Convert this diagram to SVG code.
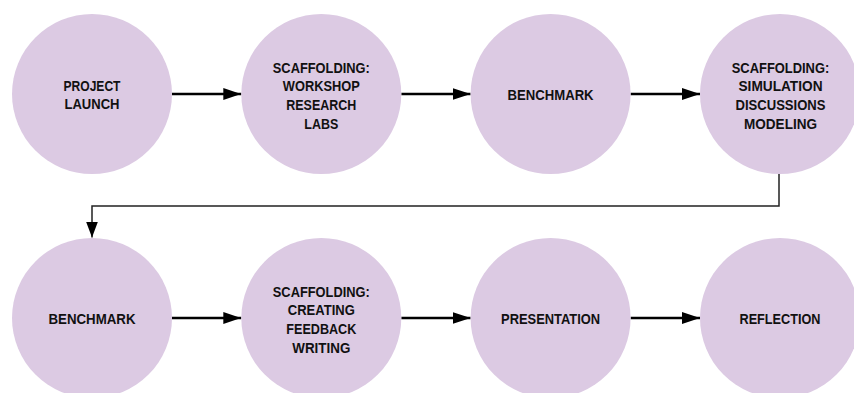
<svg xmlns="http://www.w3.org/2000/svg" width="854" height="393" viewBox="0 0 854 393">
<style>
  .node { fill: #dccae3; }
  .lbl { font-family: "Liberation Sans", Arial, sans-serif; font-weight: bold; font-size: 15px; fill: #111; text-anchor: middle; }
  .arr { stroke: #000; stroke-width: 2.5; fill: none; }
  .bend { stroke: #222; stroke-width: 1.5; fill: none; }
</style>
<defs>
  <marker id="ah" markerUnits="userSpaceOnUse" markerWidth="18" markerHeight="12" refX="18" refY="6" orient="auto">
    <path d="M0,0 L18,6 L0,12 z" fill="#000"/>
  </marker>
  <marker id="ah2" markerUnits="userSpaceOnUse" markerWidth="16" markerHeight="12" refX="16" refY="6" orient="auto">
    <path d="M0,0 L16,6 L0,12 z" fill="#000"/>
  </marker>
</defs>
<rect width="854" height="393" fill="#fff"/>
<g id="connectors">
  <line class="arr" x1="172" y1="94" x2="241.3" y2="94" marker-end="url(#ah)"/>
  <line class="arr" x1="401.3" y1="94" x2="470.6" y2="94" marker-end="url(#ah)"/>
  <line class="arr" x1="630.6" y1="94" x2="700" y2="94" marker-end="url(#ah)"/>
  <path class="bend" d="M779,174 V206 H92 V237.5" marker-end="url(#ah2)"/>
  <line class="arr" x1="172" y1="318" x2="241.3" y2="318" marker-end="url(#ah)"/>
  <line class="arr" x1="401.3" y1="318" x2="470.6" y2="318" marker-end="url(#ah)"/>
  <line class="arr" x1="630.6" y1="318" x2="700" y2="318" marker-end="url(#ah)"/>
</g>
<g id="n1">
  <circle class="node" cx="92" cy="94" r="80"/>
  <text class="lbl" x="92" y="91" textLength="57" lengthAdjust="spacingAndGlyphs">PROJECT</text>
  <text class="lbl" x="92" y="109.3" textLength="55" lengthAdjust="spacingAndGlyphs">LAUNCH</text>
</g>
<g id="n2">
  <circle class="node" cx="321.3" cy="94" r="80"/>
  <text class="lbl" x="321.3" y="72.5" textLength="97" lengthAdjust="spacingAndGlyphs">SCAFFOLDING:</text>
  <text class="lbl" x="321.3" y="91.2" textLength="77" lengthAdjust="spacingAndGlyphs">WORKSHOP</text>
  <text class="lbl" x="321.3" y="109.9" textLength="70" lengthAdjust="spacingAndGlyphs">RESEARCH</text>
  <text class="lbl" x="321.3" y="128.6" textLength="34" lengthAdjust="spacingAndGlyphs">LABS</text>
</g>
<g id="n3">
  <circle class="node" cx="550.6" cy="94" r="80"/>
  <text class="lbl" x="550.6" y="99.5" textLength="86" lengthAdjust="spacingAndGlyphs">BENCHMARK</text>
</g>
<g id="n4">
  <circle class="node" cx="780" cy="94" r="80"/>
  <text class="lbl" x="780.5" y="72.5" textLength="97.5" lengthAdjust="spacingAndGlyphs">SCAFFOLDING:</text>
  <text class="lbl" x="780.5" y="91.2" textLength="84" lengthAdjust="spacingAndGlyphs">SIMULATION</text>
  <text class="lbl" x="780.5" y="109.9" textLength="90" lengthAdjust="spacingAndGlyphs">DISCUSSIONS</text>
  <text class="lbl" x="780.5" y="128.6" textLength="73" lengthAdjust="spacingAndGlyphs">MODELING</text>
</g>
<g id="n5">
  <circle class="node" cx="92" cy="318" r="80"/>
  <text class="lbl" x="92" y="323.5" textLength="87" lengthAdjust="spacingAndGlyphs">BENCHMARK</text>
</g>
<g id="n6">
  <circle class="node" cx="321.3" cy="318" r="80"/>
  <text class="lbl" x="321.3" y="296.5" textLength="97" lengthAdjust="spacingAndGlyphs">SCAFFOLDING:</text>
  <text class="lbl" x="321.3" y="315.2" textLength="67" lengthAdjust="spacingAndGlyphs">CREATING</text>
  <text class="lbl" x="321.3" y="333.9" textLength="70" lengthAdjust="spacingAndGlyphs">FEEDBACK</text>
  <text class="lbl" x="321.3" y="352.6" textLength="58" lengthAdjust="spacingAndGlyphs">WRITING</text>
</g>
<g id="n7">
  <circle class="node" cx="550.6" cy="318" r="80"/>
  <text class="lbl" x="550.6" y="323.5" textLength="99" lengthAdjust="spacingAndGlyphs">PRESENTATION</text>
</g>
<g id="n8">
  <circle class="node" cx="780" cy="318" r="80"/>
  <text class="lbl" x="780" y="323.5" textLength="81" lengthAdjust="spacingAndGlyphs">REFLECTION</text>
</g>
</svg>
